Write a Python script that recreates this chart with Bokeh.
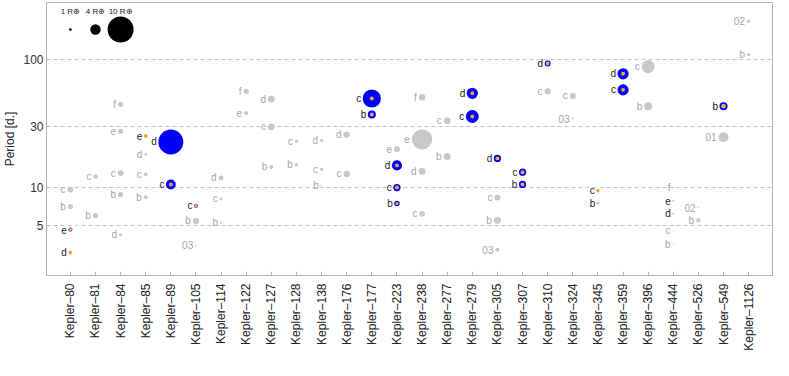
import math
from bokeh.plotting import figure
from bokeh.models import ColumnDataSource, FactorRange, FixedTicker, Range1d, PrintfTickFormatter
from bokeh.core.properties import value
from bokeh.embed import file_html
from bokeh.resources import INLINE

# ---------------- data ----------------
systems = ["Kepler–80", "Kepler–81", "Kepler–84", "Kepler–85", "Kepler–89", "Kepler–105",
           "Kepler–114", "Kepler–122", "Kepler–127", "Kepler–128", "Kepler–138", "Kepler–176",
           "Kepler–177", "Kepler–223", "Kepler–238", "Kepler–277", "Kepler–279", "Kepler–305",
           "Kepler–307", "Kepler–310", "Kepler–324", "Kepler–345", "Kepler–359", "Kepler–396",
           "Kepler–444", "Kepler–526", "Kepler–549", "Kepler–1126"]

# planets not in resonance (grey)
gray_system = ["Kepler–80", "Kepler–80", "Kepler–81", "Kepler–81",
               "Kepler–84", "Kepler–84", "Kepler–84", "Kepler–84", "Kepler–84",
               "Kepler–85", "Kepler–85", "Kepler–85", "Kepler–105", "Kepler–105",
               "Kepler–114", "Kepler–114", "Kepler–114", "Kepler–122", "Kepler–122",
               "Kepler–127", "Kepler–127", "Kepler–127", "Kepler–128", "Kepler–128",
               "Kepler–138", "Kepler–138", "Kepler–138", "Kepler–176", "Kepler–176",
               "Kepler–223", "Kepler–238", "Kepler–238", "Kepler–238", "Kepler–238",
               "Kepler–277", "Kepler–277", "Kepler–305", "Kepler–305", "Kepler–305",
               "Kepler–310", "Kepler–324", "Kepler–324", "Kepler–396", "Kepler–396",
               "Kepler–444", "Kepler–444", "Kepler–444", "Kepler–526", "Kepler–526",
               "Kepler–549", "Kepler–1126", "Kepler–1126"]
gray_planet = ["c", "b", "c", "b",
               "f", "e", "c", "b", "d",
               "d", "c", "b", "b", "03",
               "d", "c", "b", "f", "e",
               "d", "c", "b", "c", "b",
               "d", "c", "b", "d", "c",
               "e", "f", "e", "d", "c",
               "c", "b", "c", "b", "03",
               "c", "c", "03", "c", "b",
               "f", "c", "b", "02", "b",
               "01", "02", "b"]
gray_period = [9.58, 7.05, 12.1, 5.99,
               44.6, 27.4, 12.9, 8.75, 4.23,
               18.0, 12.55, 8.33, 5.44, 3.51,
               11.8, 8.09, 5.25, 56.4, 38.1,
               48.9, 29.7, 14.4, 22.9, 15.0,
               23.2, 13.8, 10.35, 25.8, 12.7,
               19.8, 50.7, 23.7, 13.3, 6.18,
               33.1, 17.4, 8.29, 5.50, 3.23,
               56.4, 51.9, 34.5, 88.1, 43.1,
               9.87, 4.54, 3.57, 6.88, 5.50,
               24.6, 199.5, 109.4]
gray_radius = [2.2, 2.0, 1.8, 2.0,
               2.0, 2.0, 2.2, 2.0, 1.2,
               1.1, 1.5, 1.5, 2.4, 0.6,
               1.9, 1.1, 0.8, 2.0, 1.6,
               2.6, 2.6, 1.5, 1.2, 1.2,
               1.2, 1.2, 0.6, 2.4, 2.4,
               2.3, 2.5, 7.8, 2.7, 2.2,
               2.7, 2.7, 2.3, 2.7, 1.5,
               2.4, 2.3, 0.8, 5.0, 3.0,
               0.6, 0.5, 0.5, 0.6, 1.7,
               3.8, 1.3, 1.3]

# planets in resonance (orange core, blue halo)
res_system = ["Kepler–80", "Kepler–80", "Kepler–85", "Kepler–89", "Kepler–89", "Kepler–105",
              "Kepler–177", "Kepler–177", "Kepler–223", "Kepler–223", "Kepler–223",
              "Kepler–279", "Kepler–279", "Kepler–305", "Kepler–307", "Kepler–307",
              "Kepler–310", "Kepler–345", "Kepler–345", "Kepler–359", "Kepler–359",
              "Kepler–444", "Kepler–444", "Kepler–549"]
res_planet = ["e", "d", "e", "d", "c", "c",
              "c", "b", "d", "c", "b",
              "d", "c", "d", "c", "b",
              "d", "c", "b", "d", "c",
              "e", "d", "b"]
res_period = [4.65, 3.07, 25.2, 22.6, 10.5, 7.14,
              49.5, 37.1, 14.8, 9.93, 7.44,
              54.4, 35.8, 16.8, 13.1, 10.5,
              93.0, 9.41, 7.48, 77.3, 57.9,
              7.81, 6.21, 43.1]
res_core = [1.4, 1.5, 1.5, 0.0, 1.5, 1.4,
            1.5, 1.5, 1.5, 1.5, 1.2,
            1.5, 1.5, 1.5, 1.5, 1.5,
            1.5, 1.3, 0.9, 1.5, 1.5,
            0.7, 0.7, 1.8]
res_halo = [1.6, 0.0, 0.0, 9.6, 3.8, 1.6,
            7.0, 3.1, 3.9, 2.8, 2.1,
            4.3, 5.0, 2.8, 2.8, 2.8,
            2.3, 0.0, 0.0, 4.3, 4.3,
            0.0, 0.0, 3.1]

legend_radius = [1, 4, 10]
legend_text = ["1 R⊕", "4 R⊕", "10 R⊕"]

# ---------------- style ----------------
PX_PER_RE = 2.6
FONT = "Liberation Sans"
GRAY = "#c8c8c8"
GRAY_TXT = "#a6a6a6"
ORANGE = "#f5a247"
BLUE = "#0000ff"
FRAME = "#b4b4b4"
LEGEND_P = 172
LEGEND_TXT_P = 238

p = figure(width=773, height=360, output_backend="svg", toolbar_location=None,
           x_range=FactorRange(*systems, range_padding=0.45, range_padding_units="absolute"),
           y_axis_type="log", y_range=Range1d(2.03, 280),
           min_border_left=20, min_border_right=1, min_border_top=2, min_border_bottom=85)

p.outline_line_color = FRAME
p.background_fill_color = "white"
p.border_fill_color = "white"
p.xgrid.grid_line_color = None
p.ygrid.ticker = FixedTicker(ticks=[5, 10, 30, 100])
p.ygrid.grid_line_color = "#c4c4c4"
p.ygrid.grid_line_dash = "4 3"
p.ygrid.grid_line_width = 1

p.yaxis.ticker = FixedTicker(ticks=[5, 10, 30, 100])
p.yaxis.formatter = PrintfTickFormatter(format="%d")
p.yaxis.axis_label = "Period [d.]"
p.yaxis.axis_label_text_font = FONT
p.yaxis.axis_label_text_font_style = "normal"
p.yaxis.axis_label_text_font_size = "12px"
p.yaxis.axis_label_text_color = "#222222"
p.yaxis.axis_label_standoff = 3
p.yaxis.major_label_text_font = FONT
p.yaxis.major_label_text_font_size = "12px"
p.yaxis.major_label_text_color = "#333333"
p.yaxis.major_label_standoff = 3
p.yaxis.major_tick_in = 0
p.yaxis.major_tick_out = 0
p.yaxis.minor_tick_line_color = None
p.yaxis.axis_line_color = FRAME

p.xaxis.major_label_orientation = math.pi / 2
p.xaxis.major_label_text_font = FONT
p.xaxis.major_label_text_font_size = "12px"
p.xaxis.major_label_text_color = "#222222"
p.xaxis.major_label_standoff = 8
p.xaxis.major_tick_in = 4
p.xaxis.major_tick_out = 0
p.xaxis.major_tick_line_color = FRAME
p.xaxis.axis_line_color = FRAME

# grey planets
gsize = [r * PX_PER_RE for r in gray_radius]
gsrc = ColumnDataSource(dict(x=gray_system, y=gray_period, s=gsize, t=gray_planet,
                             xo=[-(s / 2 + 2) for s in gsize]))
p.scatter("x", "y", size="s", source=gsrc, fill_color=GRAY, line_color=None)
p.text("x", "y", text="t", x_offset="xo", source=gsrc, text_align="right",
       text_baseline="middle", text_font=value(FONT), text_font_size="10px",
       text_color=GRAY_TXT)

# resonant planets
hsize = [r * PX_PER_RE for r in res_halo]
csize = [r * PX_PER_RE for r in res_core]
rsrc = ColumnDataSource(dict(x=res_system, y=res_period, h=hsize, c=csize, t=res_planet,
                             xo=[-(max(a, b) / 2 + 1.5) for a, b in zip(hsize, csize)]))
p.scatter("x", "y", size="h", source=rsrc, fill_color=BLUE, line_color=None)
p.scatter("x", "y", size="c", source=rsrc, fill_color=ORANGE, line_color=None)
p.text("x", "y", text="t", x_offset="xo", source=rsrc, text_align="right",
       text_baseline="middle", text_font=value(FONT), text_font_size="10px",
       text_color="#1a1a1a")

# size legend
lsrc = ColumnDataSource(dict(x=systems[:3], y=[LEGEND_P] * 3, ty=[LEGEND_TXT_P] * 3,
                             s=[r * PX_PER_RE for r in legend_radius], t=legend_text))
p.scatter("x", "y", size="s", source=lsrc, fill_color="black", line_color=None)
p.text("x", "ty", text="t", source=lsrc, text_align="center", text_baseline="middle",
       text_font=value(FONT), text_font_size="8px", text_color="#222222")

open("out.html", "w").write(file_html(p, INLINE))
